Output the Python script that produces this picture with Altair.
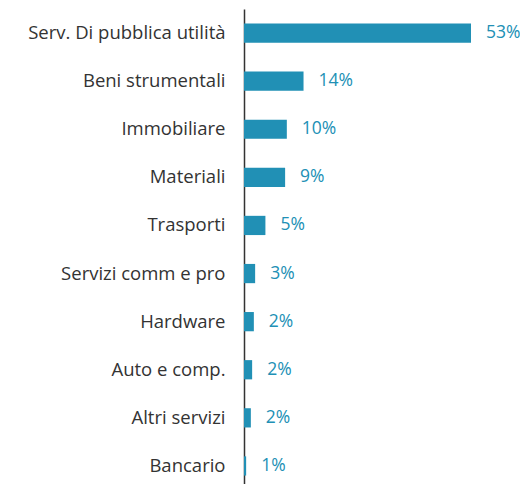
import altair as alt
import pandas as pd

categories = ["Serv. Di pubblica utilità", "Beni strumentali", "Immobiliare", "Materiali",
              "Trasporti", "Servizi comm e pro", "Hardware", "Auto e comp.",
              "Altri servizi", "Bancario"]
values = [53.0, 13.9, 10.0, 9.6, 5.0, 2.6, 2.3, 1.9, 1.6, 0.5]
labels = ["53%", "14%", "10%", "9%", "5%", "3%", "2%", "2%", "2%", "1%"]

df = pd.DataFrame({"cat": categories, "val": values, "lab": labels})

color = "#2190b5"
font = "Open Sans"

y = alt.Y("cat:N", sort=categories, title=None,
          scale=alt.Scale(paddingInner=0.6, paddingOuter=0.3),
          axis=alt.Axis(ticks=False, domain=True, domainColor="#333333", domainWidth=1.5,
                        labelFontSize=18.5, labelColor="#333333", labelPadding=19,
                        labelFont=font, labelLimit=300))
x = alt.X("val:Q", title=None, scale=alt.Scale(domain=[0, 64.44], nice=False),
          axis=None)

bars = alt.Chart(df).mark_bar(color=color).encode(x=x, y=y)
text = alt.Chart(df).mark_text(align="left", baseline="middle", dx=15, fontSize=17.5,
                               font=font, color=color).encode(x=x, y=y, text="lab:N")

chart = (bars + text).properties(
    width=276, height=481,
    autosize=alt.AutoSizeParams(type="none"),
    padding={"left": 236, "top": 1, "right": 0, "bottom": 0},
).configure_view(stroke=None)

chart.save("out.html", embed_options={"renderer": "svg", "actions": False})
